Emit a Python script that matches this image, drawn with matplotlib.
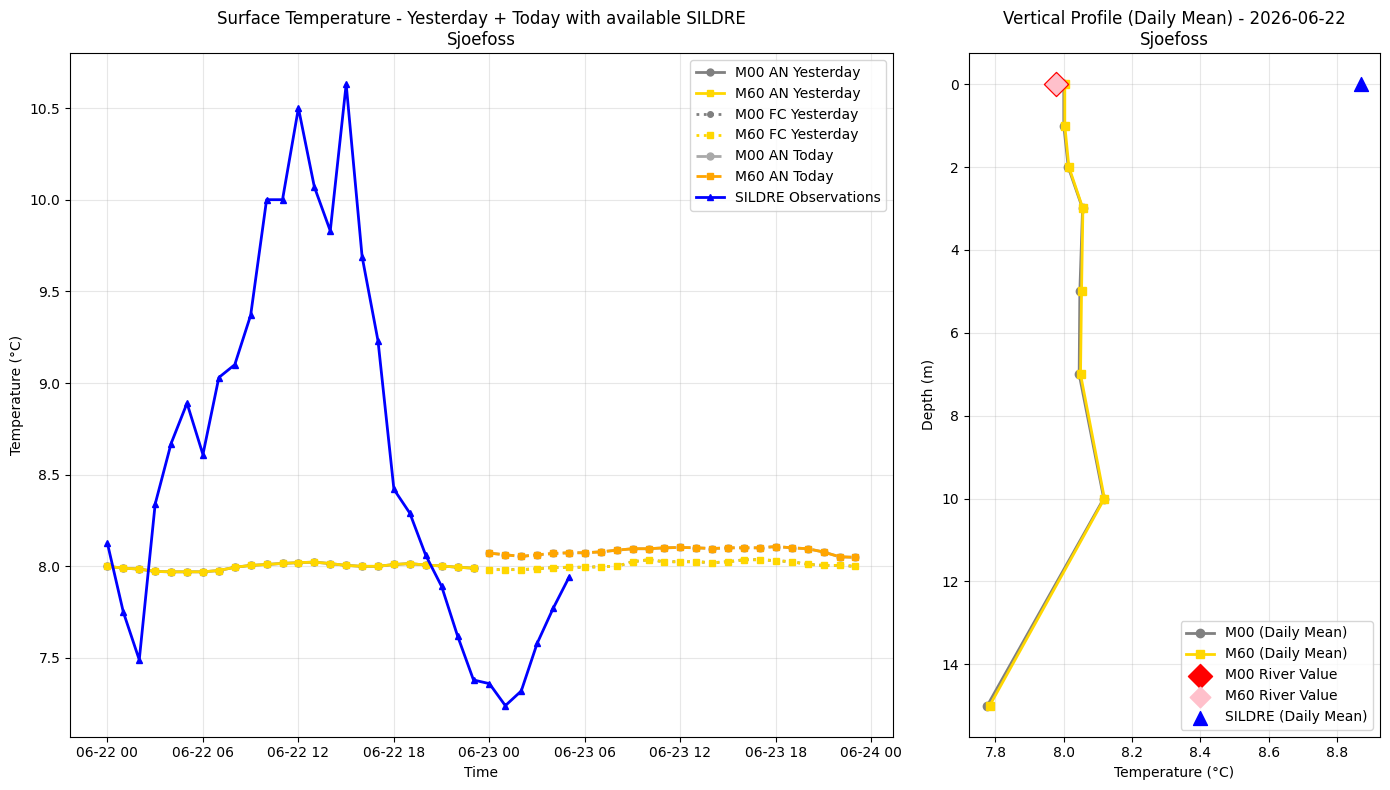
import matplotlib
matplotlib.use("Agg")
import matplotlib.pyplot as plt
import matplotlib.dates as mdates
import numpy as np
import pandas as pd

# --- surface temperature data (hourly) ---
yesterday_times = pd.date_range("2026-06-22 00:00", periods=24, freq="h")
today_times = pd.date_range("2026-06-23 00:00", periods=24, freq="h")
sildre_times = pd.date_range("2026-06-22 00:00", periods=30, freq="h")

m00_an_yesterday = [8.000, 7.990, 7.985, 7.972, 7.970, 7.970, 7.970, 7.977,
                    7.995, 8.005, 8.010, 8.016, 8.020, 8.023, 8.015, 8.005,
                    8.000, 8.000, 8.010, 8.015, 8.007, 8.002, 7.995, 7.990]
m60_an_yesterday = list(m00_an_yesterday)

m00_fc_yesterday = [7.982, 7.982, 7.982, 7.987, 7.993, 7.995, 7.995, 7.998,
                    8.000, 8.025, 8.036, 8.025, 8.025, 8.025, 8.020, 8.025,
                    8.036, 8.036, 8.031, 8.025, 8.011, 8.005, 8.005, 8.000]
m60_fc_yesterday = list(m00_fc_yesterday)

m00_an_today = [8.072, 8.063, 8.054, 8.063, 8.070, 8.074, 8.074, 8.079,
                8.088, 8.096, 8.096, 8.101, 8.103, 8.101, 8.097, 8.101,
                8.101, 8.101, 8.108, 8.101, 8.096, 8.078, 8.052, 8.049]
m60_an_today = list(m00_an_today)

sildre_obs = [8.125, 7.75, 7.49, 8.34, 8.67, 8.89, 8.61, 9.03, 9.10, 9.37,
              10.00, 10.00, 10.50, 10.07, 9.83, 10.63, 9.69, 9.23, 8.42, 8.29,
              8.06, 7.89, 7.62, 7.38, 7.36, 7.24, 7.32, 7.58, 7.77, 7.94]

# --- vertical profile data ---
depths = [0, 1, 2, 3, 5, 7, 10, 15]
m00_profile = [8.000, 8.000, 8.013, 8.055, 8.047, 8.045, 8.117, 7.776]
m60_profile = [8.003, 8.003, 8.015, 8.056, 8.052, 8.049, 8.119, 7.783]
m00_river = 7.977
m60_river = 7.977
sildre_mean = 8.871

fig, (ax1, ax2) = plt.subplots(1, 2, figsize=(14, 8), dpi=100,
                               gridspec_kw={"width_ratios": [2, 1]})

# left: surface temperature time series
ax1.plot(yesterday_times, m00_an_yesterday, "o-", color="gray", lw=2, ms=5, label="M00 AN Yesterday")
ax1.plot(yesterday_times, m60_an_yesterday, "s-", color="gold", lw=2, ms=5, label="M60 AN Yesterday")
ax1.plot(today_times, m00_fc_yesterday, "o:", color="gray", lw=2, ms=4, label="M00 FC Yesterday")
ax1.plot(today_times, m60_fc_yesterday, "s:", color="gold", lw=2, ms=4, label="M60 FC Yesterday")
ax1.plot(today_times, m00_an_today, "o--", color="darkgray", lw=2, ms=5, label="M00 AN Today")
ax1.plot(today_times, m60_an_today, "s--", color="orange", lw=2, ms=5, label="M60 AN Today")
ax1.plot(sildre_times, sildre_obs, "^-", color="blue", lw=2, ms=5, label="SILDRE Observations")

ax1.set_title("Surface Temperature - Yesterday + Today with available SILDRE\nSjoefoss")
ax1.set_xlabel("Time")
ax1.set_ylabel("Temperature (°C)")
ax1.xaxis.set_major_locator(mdates.HourLocator(byhour=[0, 6, 12, 18]))
ax1.xaxis.set_major_formatter(mdates.DateFormatter("%m-%d %H"))
ax1.grid(True, alpha=0.3)
ax1.legend(loc="upper right")

# right: vertical profile
ax2.plot(m00_profile, depths, "o-", color="gray", lw=2, ms=6, label="M00 (Daily Mean)")
ax2.plot(m60_profile, depths, "s-", color="gold", lw=2, ms=6, label="M60 (Daily Mean)")
ax2.scatter([m00_river], [0], marker="D", s=150, color="red", zorder=5, label="M00 River Value")
ax2.scatter([m60_river], [0], marker="D", s=110, color="pink", zorder=6, label="M60 River Value")
ax2.scatter([sildre_mean], [0], marker="^", s=100, color="blue", zorder=5, label="SILDRE (Daily Mean)")
ax2.invert_yaxis()
ax2.set_title("Vertical Profile (Daily Mean) - 2026-06-22\nSjoefoss")
ax2.set_xlabel("Temperature (°C)")
ax2.set_ylabel("Depth (m)")
ax2.grid(True, alpha=0.3)
ax2.legend(loc="lower right")

plt.tight_layout()
plt.savefig("out.png", bbox_inches="tight")
